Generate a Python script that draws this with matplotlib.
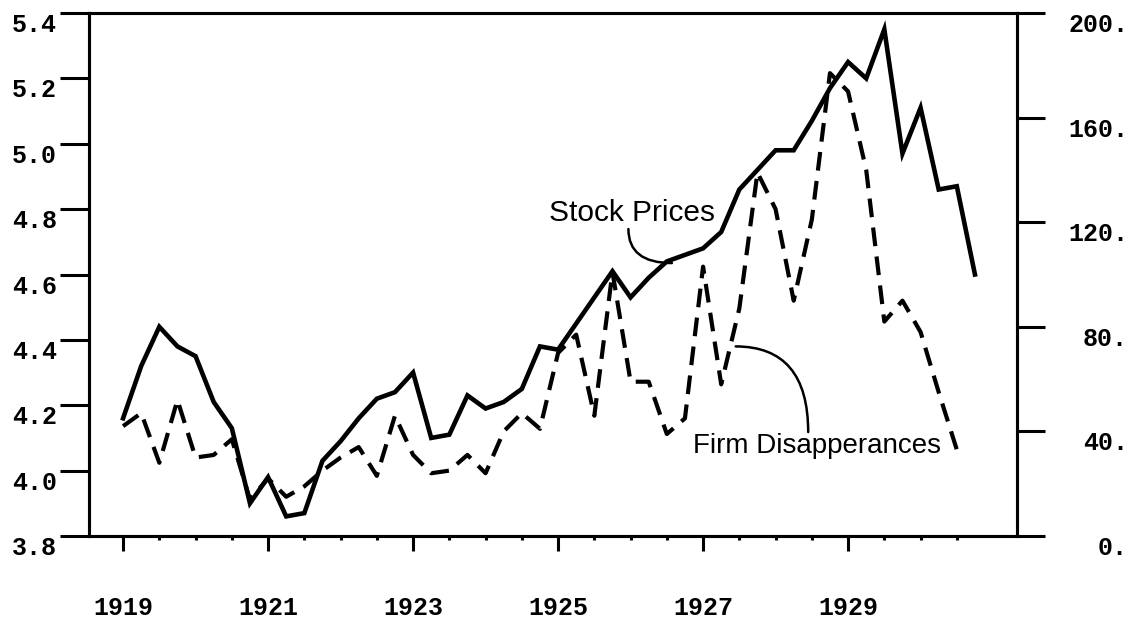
import matplotlib
matplotlib.use("Agg")
import matplotlib.pyplot as plt
import numpy as np

# quarterly observations, 1919 Q1 onward
stock_dates = 1919 + 0.25 * np.arange(48)
stock_prices = [4.16, 4.32, 4.44, 4.38, 4.35, 4.21, 4.13, 3.90,
                3.98, 3.86, 3.87, 4.03, 4.09, 4.16, 4.22, 4.24,
                4.30, 4.10, 4.11, 4.23, 4.19, 4.21, 4.25, 4.38,
                4.37, 4.45, 4.53, 4.61, 4.53, 4.59, 4.64, 4.66,
                4.68, 4.73, 4.86, 4.92, 4.98, 4.98, 5.07, 5.17,
                5.25, 5.20, 5.35, 4.97, 5.11, 4.86, 4.87, 4.60]

firm_dates = 1919 + 0.25 * np.arange(47)
firm_disappearances = [42, 47, 28, 52, 30, 31, 37, 14,
                       22, 15, 19, 25, 30, 34, 23, 46,
                       31, 24, 25, 31, 24, 40, 47, 41,
                       70, 77, 46, 101, 59, 59, 39, 45,
                       103, 58, 87, 139, 125, 90, 121, 177,
                       170, 140, 82, 90, 78, 55, 33]

left_ticks = [3.8, 4.0, 4.2, 4.4, 4.6, 4.8, 5.0, 5.2, 5.4]
right_ticks = [0, 40, 80, 120, 160, 200]
right_labels = ["0.", "40.", "80.", "120.", "160.", "200."]
year_ticks = [1919, 1921, 1923, 1925, 1927, 1929]
half_year_ticks = [1919.5, 1920, 1920.5, 1921.5, 1922, 1922.5, 1923.5, 1924,
                   1924.5, 1925.5, 1926, 1926.5, 1927.5, 1928, 1928.5,
                   1929.5, 1930, 1930.5]

plt.rcParams['font.family'] = 'Liberation Mono'
plt.rcParams['font.weight'] = 'bold'

fig = plt.figure(figsize=(11.39, 6.29), dpi=100)
ax = fig.add_axes([89/1139, 1 - 536/629, (1017-89)/1139, (536-13)/629])
ax2 = ax.twinx()

ax.plot(stock_dates, stock_prices, "-", color="black", lw=3.3, solid_joinstyle='miter')
ax2.plot(firm_dates, firm_disappearances, color="black", lw=3.0, dashes=(4.5, 2.5))

ax.set_xlim(1918.53, 1931.33)
ax.set_ylim(3.8, 5.4)
ax2.set_ylim(0, 200)

ax.set_yticks(left_ticks)
ax.set_yticklabels(["%.1f" % v for v in left_ticks])
ax.set_xticks(year_ticks)
ax.set_xticklabels([str(y) for y in year_ticks])
ax.set_xticks(half_year_ticks, minor=True)
ax2.set_yticks(right_ticks)
ax2.set_yticklabels(right_labels)

for a in (ax, ax2):
    for s in a.spines.values():
        s.set_linewidth(2.2)

ax.tick_params(axis='y', direction='out', length=21, width=2.2, pad=2, labelsize=18)
ax.tick_params(axis='x', which='major', direction='out', length=11, width=2.2, pad=32, labelsize=18)
ax.tick_params(axis='x', which='minor', direction='out', length=3, width=2.2)
ax2.tick_params(axis='y', direction='out', length=20, width=2.2, pad=60, labelsize=18)

for lbl in ax.get_yticklabels():
    lbl.set_va('top')
for lbl in ax2.get_yticklabels():
    lbl.set_va('top')
    lbl.set_ha('right')

# labels with curved leaders
ax.text(1926.02, 4.788, "Stock Prices", family='Liberation Sans', weight='normal',
        fontsize=21.5, ha='center', va='center')
ax.annotate("", xy=(1926.57, 4.635), xytext=(1925.97, 4.739),
            arrowprops=dict(arrowstyle='-', lw=1.8, color='black', shrinkA=0, shrinkB=0,
                            connectionstyle='angle3,angleA=90,angleB=0'))
ax.text(1928.57, 4.075, "Firm Disapperances", family='Liberation Sans', weight='normal',
        fontsize=20, ha='center', va='center')
ax.annotate("", xy=(1927.45, 4.38), xytext=(1928.45, 4.118),
            arrowprops=dict(arrowstyle='-', lw=1.8, color='black', shrinkA=0, shrinkB=0,
                            connectionstyle='angle3,angleA=90,angleB=0'))

fig.savefig("out.png", dpi=100)
